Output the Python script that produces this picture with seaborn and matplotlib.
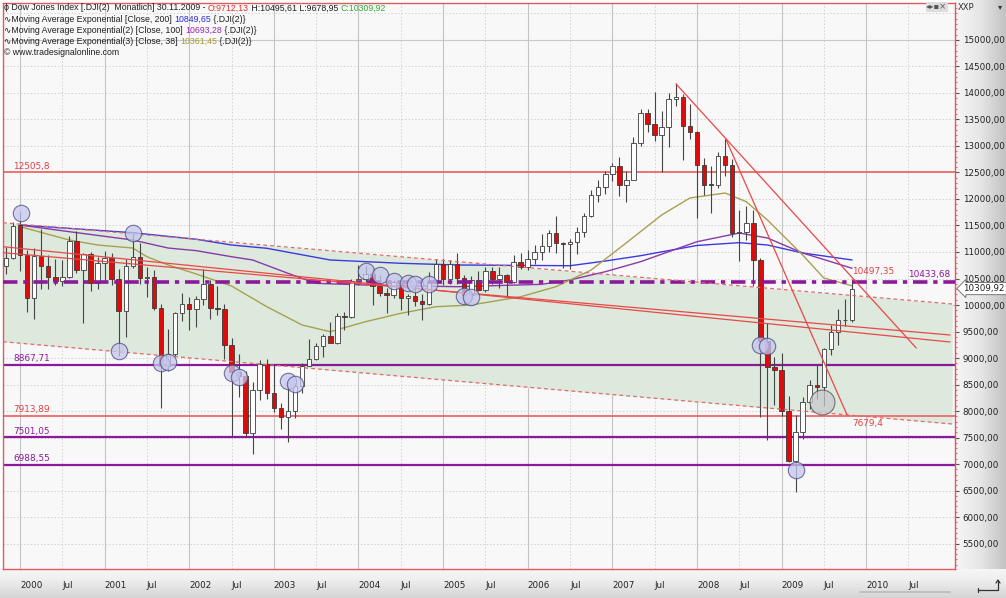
import numpy as np
import pandas as pd
import matplotlib
matplotlib.use("Agg")
import matplotlib.pyplot as plt
import seaborn as sns
from matplotlib.offsetbox import TextArea, HPacker, VPacker, AnchoredOffsetbox
from matplotlib.lines import Line2D

# ---------------- data (monthly candles, Nov 1999 .. Nov 2009) ----------------
# month index: 0 = Jan 2000
month_idx = list(range(-2, 119))
opens = [10729, 10878,
         11501, 10941, 10128, 10922, 10734, 10522, 10448, 10522, 11215, 10651, 10971, 10415,
         10787, 10887, 10495, 9879, 10735, 10912, 10502, 10523, 9950, 8848, 9075, 9852,
         10022, 9920, 10106, 10404, 9946, 9925, 9243, 8737, 8664, 7592, 8397, 8896,
         8342, 8054, 7891, 7992, 8480, 8850, 8985, 9234, 9416, 9275, 9801, 9782,
         10454, 10488, 10584, 10358, 10226, 10188, 10435, 10140, 10174, 10080, 10027, 10428,
         10783, 10490, 10766, 10504, 10193, 10467, 10275, 10641, 10482, 10569, 10440, 10806,
         10718, 10865, 10993, 11109, 11367, 11168, 11150, 11186, 11381, 11679, 12081, 12222,
         12463, 12622, 12268, 12354, 13063, 13628, 13409, 13212, 13358, 13896, 13930, 13372,
         13265, 12650, 12266, 12263, 12820, 12638, 11350, 11378, 11544, 10851, 9325, 8829,
         8776, 8001, 7063, 7609, 8168, 8500, 8447, 9172, 9496, 9712, 9712.13]
highs = [11089, 11569,
         11750, 11041, 11083, 11425, 10936, 10863, 10843, 11310, 11401, 10977, 10992, 10899,
         11019, 10984, 10680, 10868, 11350, 11175, 10720, 10651, 10011, 9545, 9875, 10220,
         10145, 10174, 10673, 10467, 10363, 10010, 9380, 9077, 8747, 8553, 8962, 8984,
         8869, 8152, 8552, 8525, 8898, 9352, 9286, 9446, 9686, 9853, 9873, 10484,
         10753, 10738, 10689, 10571, 10321, 10481, 10435, 10213, 10343, 10208, 10615, 10868,
         10868, 10841, 10984, 10570, 10542, 10639, 10720, 10719, 10720, 10579, 10935, 10988,
         11047, 11137, 11334, 11413, 11670, 11197, 11250, 11470, 11727, 12163, 12361, 12529,
         12671, 12795, 12530, 13162, 13692, 13692, 14021, 13658, 14000, 14198, 13977, 13783,
         13279, 12767, 12622, 12891, 13136, 12750, 11790, 11867, 11790, 10882, 9654, 9026,
         9088, 8280, 7924, 8258, 8588, 8878, 9197, 9621, 9918, 10120, 10495.61]
lows = [10581, 10868,
        10638, 9863, 9731, 10306, 10300, 10370, 10365, 10512, 10600, 9654, 10263, 10301,
        10434, 10375, 9047, 9389, 10692, 10403, 10147, 9908, 8062, 8750, 9045, 9700,
        9529, 9582, 10000, 9742, 9802, 8981, 7532, 8263, 7528, 7197, 8203, 8222,
        7989, 7664, 7417, 7866, 8349, 8849, 8958, 9016, 9307, 9270, 9537, 9747,
        10385, 10435, 10000, 10178, 9853, 10136, 9911, 9808, 9974, 9708, 10008, 10424,
        10368, 10400, 10403, 10012, 10094, 10264, 10241, 10397, 10315, 10156, 10407, 10683,
        10660, 10780, 10855, 10996, 10980, 10698, 10683, 10955, 11281, 11653, 11946, 12103,
        12344, 12050, 11939, 12354, 12994, 13266, 13100, 12518, 12972, 13762, 12743, 13141,
        11634, 12071, 11731, 12206, 12443, 11287, 10827, 11221, 10365, 7882, 7449, 8118,
        7909, 7045, 6470, 7466, 8031, 8222, 8087, 9055, 9252, 9596, 9678.95]
closes = [10878, 11497,
          10941, 10128, 10922, 10734, 10522, 10448, 10522, 11215, 10651, 10971, 10415, 10787,
          10887, 10495, 9879, 10735, 10912, 10502, 10523, 9950, 8848, 9075, 9852, 10022,
          9920, 10106, 10404, 9946, 9925, 9243, 8737, 8664, 7592, 8397, 8896, 8342,
          8054, 7891, 7992, 8480, 8850, 8985, 9234, 9416, 9275, 9801, 9782, 10454,
          10488, 10584, 10358, 10226, 10188, 10435, 10140, 10174, 10080, 10027, 10428, 10783,
          10490, 10766, 10504, 10193, 10467, 10275, 10641, 10482, 10569, 10440, 10806, 10718,
          10865, 10993, 11109, 11367, 11168, 11150, 11186, 11381, 11679, 12081, 12222, 12463,
          12622, 12268, 12354, 13063, 13628, 13409, 13212, 13358, 13896, 13930, 13372, 13265,
          12650, 12266, 12263, 12820, 12638, 11350, 11378, 11544, 10851, 9325, 8829, 8776,
          8001, 7063, 7609, 8168, 8500, 8447, 9172, 9496, 9712, 9713, 10309.92]

# moving averages (month index, value)
ema200_x = [0, 16, 25, 30, 35, 44, 54, 62, 78, 83, 88, 96, 102, 106, 111, 118]
ema200_y = [11509, 11364, 11240, 11132, 11070, 10849, 10787, 10755, 10741, 10830, 10930,
            11123, 11176, 11132, 10981, 10849.65]
ema100_x = [0, 7, 16, 21, 25, 30, 33, 38, 42, 49, 62, 74, 78, 83, 88, 96, 102, 106, 111, 118]
ema100_y = [11509, 11383, 11226, 11075, 11025, 10911, 10849, 10598, 10409, 10377, 10345,
            10390, 10472, 10628, 10817, 11194, 11358, 11264, 10981, 10693.28]
ema38_x = [0, 7, 11, 16, 18, 21, 25, 30, 35, 40, 44, 49, 54, 59, 64, 71, 76, 81, 85, 91,
           95, 100, 103, 106, 111, 114, 118]
ema38_y = [11478, 11226, 11132, 11075, 10911, 10755, 10585, 10358, 9968, 9623, 9496, 9685,
           9843, 9968, 10000, 10156, 10345, 10660, 11070, 11698, 12019, 12113, 11949, 11604,
           10943, 10509, 10361.45]

# horizontal levels
levels_purple = [8867.71, 7501.05, 6988.55]
levels_red = [12505.8, 7913.89]
level_dashdot = 10433.68

# drawn trend lines (month index pairs, value pairs)
trend_a_x, trend_a_y = [-2.4, 131.9], [11100, 9302]
trend_b_x, trend_b_y = [-2.4, 131.9], [10987, 9434]
down1_x, down1_y = [93.05, 127.1], [14170, 9189]
down2_x, down2_y = [100.1, 117.3], [13132, 7924]
chan_x = [-2.41, 132.2]
chan_up = [11553, 10019]
chan_lo = [9307, 7755]

# marker circles (month index, value)
circ_x = [0.1, 16, 14, 20, 21, 30, 31, 38, 39, 49, 51, 53, 55, 56, 58, 63, 64, 105, 106, 110]
circ_y = [11742, 11364, 9138, 8900, 8930, 8722, 8636, 8566, 8510, 10647, 10566, 10453,
          10421, 10396, 10396, 10170, 10145, 9245, 9232, 6887]
big_circ_x, big_circ_y = [113.7], [8175]

years = list(range(2000, 2011))

# ---------------- figure ----------------
sns.set_style("white")
plt.rcParams['font.family'] = ['DejaVu Sans']
W, H = 1006, 598
fig = plt.figure(figsize=(W / 100, H / 100), dpi=100)
fig.patch.set_facecolor('white')

def fx(px):
    return px / W

def fy(py):
    return 1 - py / H

# right axis panel gradient
rp = fig.add_axes([fx(955), fy(570), fx(W - 955), fy(0) - fy(570)])
grad = np.linspace(0, 1, 256)[None, :]
rp.imshow(grad, aspect='auto', cmap=matplotlib.colors.LinearSegmentedColormap.from_list(
    'g1', ['#f6f6f6', '#e6e6e6', '#c2c2c2']), extent=[0, 1, 0, 1])
rp.set_axis_off()
# bottom axis panel gradient
bp = fig.add_axes([0, 0, 1, fy(569)])
gradv = np.linspace(0, 1, 256)[:, None]
bp.imshow(gradv, aspect='auto', cmap=matplotlib.colors.LinearSegmentedColormap.from_list(
    'g2', ['#d4d4d4', '#e2e2e2', '#f0f0f0', '#f6f6f6']), extent=[0, 1, 0, 1], origin='lower')
bp.set_axis_off()

ax = fig.add_axes([fx(3), fy(569), fx(955) - fx(3), fy(3) - fy(569)])
ax.set_facecolor('#f8f8f8')
ax.set_xlim(-2.41, 132.6)
ax.set_ylim(5019, 15698)

# grid
for y in range(5500, 15501, 500):
    if y % 5000 == 0:
        ax.axhline(y, color='#c8c8c8', lw=0.8, zorder=0.5)
    else:
        ax.axhline(y, color='#d2d2d2', lw=0.7, ls=(0, (1.5, 2)), zorder=0.5)
for k in range(len(years)):
    ax.axvline(12 * k, color='#c4c4c4', lw=0.8, zorder=0.5)
    ax.axvline(12 * k + 6, color='#d2d2d2', lw=0.7, ls=(0, (1.5, 2)), zorder=0.5)

# channel fill
ax.fill_between(chan_x, chan_up, chan_lo, color='#dde9dc', zorder=0.8, lw=0)
ax.plot(chan_x, chan_up, color='#e06a6a', lw=0.9, ls=(0, (3, 2.5)), zorder=4)
ax.plot(chan_x, chan_lo, color='#e06a6a', lw=0.9, ls=(0, (3, 2.5)), zorder=4)

# horizontal levels
for v in levels_purple:
    ax.axhline(v, color='#8a1a9a', lw=1.6, zorder=1.5)
for v in levels_red:
    ax.axhline(v, color='#ec6a6a', lw=1.3, zorder=1.5)

# moving averages (seaborn)
ema_df = pd.concat([
    pd.DataFrame({'m': ema200_x, 'v': ema200_y, 's': 'EMA200'}),
    pd.DataFrame({'m': ema100_x, 'v': ema100_y, 's': 'EMA100'}),
    pd.DataFrame({'m': ema38_x, 'v': ema38_y, 's': 'EMA38'}),
])
sns.lineplot(data=ema_df, x='m', y='v', hue='s',
             palette={'EMA200': '#3a3ae0', 'EMA100': '#8a3aa8', 'EMA38': '#a8a050'},
             lw=1.0, ax=ax, legend=False, zorder=2.5, sort=False, estimator=None)

# candles
df = pd.DataFrame({'m': month_idx, 'o': opens, 'h': highs, 'l': lows, 'c': closes})
up = df['c'] >= df['o']
ax.vlines(df['m'], df['l'], df['h'], color='#454545', lw=0.8, zorder=3)
body_lo = np.minimum(df['o'], df['c'])
body_h = np.maximum(np.abs(df['c'] - df['o']), 12)
ax.bar(df['m'][up], body_h[up], bottom=body_lo[up], width=0.64, color='white',
       edgecolor='#3a3a3a', lw=0.6, zorder=3.2)
ax.bar(df['m'][~up], body_h[~up], bottom=body_lo[~up], width=0.64, color='#e00a0a',
       edgecolor='#3a3a3a', lw=0.6, zorder=3.2)

# dash-dot level
ax.axhline(level_dashdot, color='#8a1a9a', lw=2.6, ls=(0, (4, 1.6, 1.2, 1.6)), zorder=3.5)

# trend lines
for xs, ys in [(trend_a_x, trend_a_y), (trend_b_x, trend_b_y), (down1_x, down1_y),
               (down2_x, down2_y)]:
    ax.plot(xs, ys, color='#e84848', lw=0.9, zorder=4)

# circles
sns.scatterplot(x=circ_x, y=circ_y, s=140, color='#c4c6ec', alpha=0.75,
                edgecolor='#4a4a80', linewidth=0.8, ax=ax, zorder=5, legend=False)
sns.scatterplot(x=big_circ_x, y=big_circ_y, s=320, color='#c8c8cc', alpha=0.75,
                edgecolor='#505050', linewidth=0.8, ax=ax, zorder=5, legend=False)

# level labels
lab_fs = 6.4
def lev_label(v, txt, col):
    ax.annotate(txt, xy=(0.0105, v), xycoords=('axes fraction', 'data'), xytext=(0, 1.2),
                textcoords='offset points', va='bottom', ha='left', fontsize=lab_fs,
                color=col, zorder=6)
lev_label(12505.8, '12505,8', '#e04040')
lev_label(8867.71, '8867,71', '#8a1a9a')
lev_label(7913.89, '7913,89', '#e04040')
lev_label(7501.05, '7501,05', '#8a1a9a')
lev_label(6988.55, '6988,55', '#8a1a9a')
ax.annotate('10433,68', xy=(0.995, level_dashdot), xycoords=('axes fraction', 'data'),
            xytext=(0, 2), textcoords='offset points', va='bottom', ha='right',
            fontsize=lab_fs, color='#8a1a9a', zorder=6)
ax.annotate('10497,35', xy=(118, 10497.35), xytext=(0, 2), textcoords='offset points',
            va='bottom', ha='left', fontsize=lab_fs, color='#e04040', zorder=6)
ax.annotate('7679,4', xy=(118, 7679.4), xytext=(0, 3), textcoords='offset points',
            va='center', ha='left', fontsize=lab_fs, color='#e04040', zorder=6)

# axes formatting
for s in ax.spines.values():
    s.set_color('#e05a5a')
    s.set_linewidth(1.0)
ax.yaxis.tick_right()
yt = list(range(5500, 15001, 500))
ax.set_yticks(yt)
ax.set_yticklabels([f"{v:.2f}".replace('.', ',') for v in yt])
ax.set_yticks(list(range(5100, 15700, 100)), minor=True)
ax.tick_params(axis='y', which='major', direction='out', length=3, width=0.8,
               color='#555555', labelsize=6.3, labelcolor='#222222', pad=2.5)
ax.tick_params(axis='y', which='minor', direction='out', length=1.5, width=0.8,
               color='#e07070')
xt, xl = [], []
for k, yr in enumerate(years):
    xt += [12 * k, 12 * k + 6]
    xl += [str(yr), 'Jul']
ax.set_xticks(xt)
ax.set_xticklabels(xl)
ax.tick_params(axis='x', direction='out', length=3, width=0.8, color='#444444',
               labelsize=6.3, labelcolor='#222222', pad=5.5)
for t in ax.get_xticklabels():
    t.set_horizontalalignment('left')
ax.set_xlabel('')
ax.set_ylabel('')

# price box
ax.annotate('10309,92', xy=(1.0, 10309.92), xycoords=('axes fraction', 'data'),
            xytext=(6, 0), textcoords='offset points', va='center', ha='left',
            fontsize=6.3, color='#222222', annotation_clip=False,
            bbox=dict(boxstyle='larrow,pad=0.18', fc='white', ec='#777777', lw=0.7))

# header legend
fs = 6.3
hdr_family = ['Liberation Sans', 'DejaVu Sans']
def ta(t, c='#202020'):
    return TextArea(t, textprops=dict(color=c, fontsize=fs, family=hdr_family))
lines = [
    HPacker(children=[ta('\u03d5 Dow Jones Index [.DJI(2)  Monatlich] 30.11.2009 - '),
                      ta('O:9712,13', '#e03030'), ta(' H:10495,61 L:9678,95 '),
                      ta('C:10309,92', '#30b030')], pad=0, sep=0),
    HPacker(children=[ta('\u223fMoving Average Exponential [Close, 200] '),
                      ta('10849,65', '#2a2ae0'), ta(' {.DJI(2)}')], pad=0, sep=0),
    HPacker(children=[ta('\u223fMoving Average Exponential(2) [Close, 100] '),
                      ta('10693,28', '#9a2aa8'), ta(' {.DJI(2)}')], pad=0, sep=0),
    HPacker(children=[ta('\u223fMoving Average Exponential(3) [Close, 38] '),
                      ta('10361,45', '#a89a30'), ta(' {.DJI(2)}')], pad=0, sep=0),
    HPacker(children=[ta('\u00a9 www.tradesignalonline.com')], pad=0, sep=0),
]
vb = VPacker(children=lines, pad=0, sep=1.6, align='left')
anch = AnchoredOffsetbox(loc='upper left', child=vb, pad=0, borderpad=0, frameon=False,
                         bbox_to_anchor=(fx(4), fy(3.5)), bbox_transform=fig.transFigure)
ax.add_artist(anch)

# top-right decorations
fig.text(fx(958), fy(7), 'XXP', fontsize=6, color='#333333', va='center', ha='left')
fig.text(fx(1000), fy(7), '\u25be', fontsize=6, color='#333333', va='center', ha='center')
fig.text(fx(937), fy(7), '\u25c2\u25b8\u25aa\u00d7', fontsize=6, color='#555555',
         va='center', ha='center',
         bbox=dict(boxstyle='square,pad=0.1', fc='#dddddd', ec='none'))
# bottom-right corner icon
fig.add_artist(Line2D([fx(978), fx(998), fx(998)], [fy(590), fy(590), fy(581)],
                      color='#333333', lw=0.9))
fig.add_artist(Line2D([fx(978), fx(978)], [fy(588), fy(592)], color='#333333', lw=0.9))
fig.add_artist(Line2D([fx(996), fx(998), fx(1000)], [fy(583), fy(580), fy(583)],
                      color='#333333', lw=0.9))
# scrollbar strip
fig.add_artist(Line2D([fx(860), fx(950)], [fy(592), fy(592)], color='#bbbbbb', lw=1.2))

fig.savefig('out.png', dpi=100, facecolor='white')
